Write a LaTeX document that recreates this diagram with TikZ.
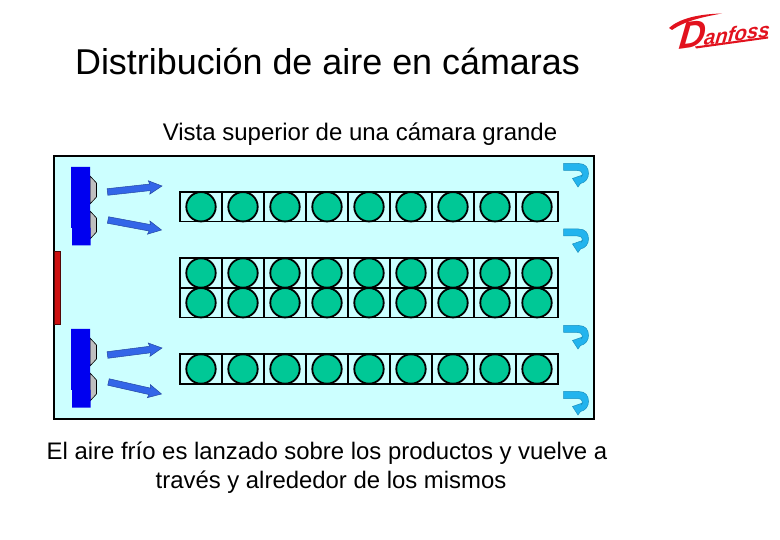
\documentclass[tikz,border=0pt]{standalone}
\usepackage{fontspec}
\setmainfont{Liberation Sans}
\definecolor{roomc}{HTML}{CCFFFF}
\definecolor{prodc}{HTML}{00C896}
\definecolor{doorc}{HTML}{CC1111}
\definecolor{unitc}{HTML}{0000F0}
\definecolor{jetc}{HTML}{3366E8}
\definecolor{retc}{HTML}{22B4EE}
\definecolor{logoc}{HTML}{E2121E}
\tikzset{
  room/.style={draw=black,line width=2pt,fill=roomc},
  door/.style={draw=black!60!doorc,line width=.6pt,fill=doorc},
  unitbody/.style={fill=unitc},
  fan/.style={draw=black,line width=.6pt,fill=black!25},
  cell/.style={draw=black,line width=1.8pt},
  product/.style={draw=black,line width=1.8pt,fill=prodc},
  jet/.style={draw=black!30!jetc,line width=.5pt,fill=jetc},
  backflow/.style={draw=black!20!retc,line width=.5pt,fill=retc},
  label/.style={inner sep=0pt,anchor=base,align=center}
}
\newcommand{\airjet}[4]{%
  \pgfmathsetmacro{\ang}{-atan2(#4-#2,#3-#1)}%
  \pgfmathsetmacro{\len}{veclen(#3-#1,#4-#2)}%
  \begin{scope}[shift={(#1,#2)},rotate=\ang]
    \draw[jet] (0,-3.3) -- (\len-12,-3.3) -- (\len-13,-6.7) -- (\len,0) -- (\len-13,6.7) -- (\len-12,3.3) -- (0,3.3) -- cycle;
  \end{scope}}
\newcommand{\backflowmark}[2]{%
  \begin{scope}[shift={(#1,#2)}]
    \draw[backflow] (0,0) -- (15,0) .. controls (22,0) and (25,4) .. (25,10) .. controls (25,15) and (22,19) .. (17,20) -- (14.5,23.5) -- (9,15) -- (19,11.5) -- (17.5,13.5) .. controls (18.5,12) and (19,11) .. (18.5,9.5) .. controls (18,8) and (17,7) .. (14,7) -- (0,7) -- cycle;
  \end{scope}}
\newcommand{\rackrow}[2]{%
  \draw[cell] (180,#1) rectangle (558,#2);
  \foreach \i in {1,...,8} \draw[cell] (180+42*\i,#1) -- (180+42*\i,#2);
  \foreach \i in {0,...,8} \draw[product] (201+42*\i,{(#1+#2)/2}) circle (14.7);}
\begin{document}
\begin{tikzpicture}[x=1pt,y=-1pt]
\useasboundingbox (0,0) rectangle (780,540);
\fill[white] (0,0) rectangle (780,540);
\node[label] (title) at (327.5,75) {\fontsize{35.9}{36}\selectfont Distribución de aire en cámaras};
\node[label] (subtitle) at (360,141) {\fontsize{24}{26}\selectfont Vista superior de una cámara grande};
\draw[room] (54,156) rectangle (594,419);
\draw[door] (54,251) rectangle (60,324);
% evaporators
\foreach \y in {0,162}{
  \draw[fan] (90,176+\y) -- (96.5,183+\y) -- (96.5,197+\y) -- (90,204+\y) -- cycle;
  \draw[fan] (90,211+\y) -- (96.5,218+\y) -- (96.5,232+\y) -- (90,239+\y) -- cycle;
  \fill[unitbody] (71,167+\y) -- (90,167+\y) -- (90,228+\y) -- (90.7,228+\y) -- (90.7,245.5+\y) -- (72,245.5+\y) -- (72,228+\y) -- (71,228+\y) -- cycle;
}
\airjet{107.5}{192}{162}{186}
\airjet{108}{220}{161.5}{230}
\airjet{107.5}{355}{162}{348}
\airjet{108.5}{382}{161.5}{394}
\rackrow{192}{221.5}
\rackrow{258}{288}
\rackrow{288}{317.5}
\rackrow{354}{384}
\backflowmark{563.5}{163.5}
\backflowmark{563.5}{229}
\backflowmark{563.5}{325.5}
\backflowmark{563.5}{391.5}
\node[label] (captiona) at (327,459) {\fontsize{23.9}{26}\selectfont El aire frío es lanzado sobre los productos y vuelve a};
\node[label] (captionb) at (331,488) {\fontsize{23.9}{26}\selectfont través y alrededor de los mismos};
% logo
\node[inner sep=0pt,text=logoc,rotate=8,xslant=.25] (logo) at (725,30) {\bfseries\itshape\fontsize{37}{37}\selectfont D\fontsize{20.5}{20.5}\selectfont\kern-1pt anfoss};
\fill[logoc] (669,28) .. controls (680,18) and (700,14) .. (722,13.5) .. controls (702,17) and (685,21) .. (672,30) -- cycle;
\fill[logoc] (695,46.5) -- (768,36.5) -- (768,38.5) -- (696,48.5) -- cycle;
\end{tikzpicture}
\end{document}
